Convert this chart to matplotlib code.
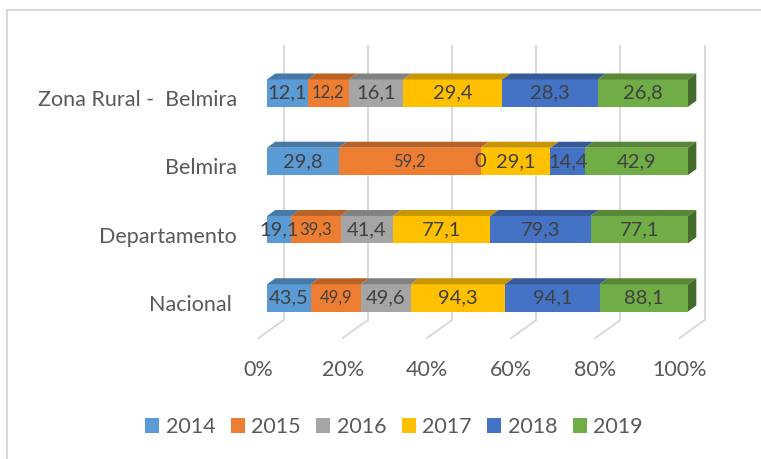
import matplotlib
matplotlib.use("Agg")
import matplotlib.pyplot as plt
import matplotlib.colors as mcolors
from matplotlib.patches import Polygon, Patch
from matplotlib.lines import Line2D
import numpy as np

plt.rcParams['font.family'] = ['Lato', 'DejaVu Sans']

# Data (values as shown in the data labels)
categories = ['Nacional ', 'Departamento', 'Belmira', 'Zona Rural -  Belmira']
years = ['2014', '2015', '2016', '2017', '2018', '2019']
values = {
    '2014': [43.5, 19.1, 29.8, 12.1],
    '2015': [49.9, 39.3, 59.2, 12.2],
    '2016': [49.6, 41.4, 0.0, 16.1],
    '2017': [94.3, 77.1, 29.1, 29.4],
    '2018': [94.1, 79.3, 14.4, 28.3],
    '2019': [88.1, 77.1, 42.9, 26.8],
}
labels = {
    '2014': ['43,5', '19,1', '29,8', '12,1'],
    '2015': ['49,9', '39,3', '59,2', '12,2'],
    '2016': ['49,6', '41,4', '0', '16,1'],
    '2017': ['94,3', '77,1', '29,1', '29,4'],
    '2018': ['94,1', '79,3', '14,4', '28,3'],
    '2019': ['88,1', '77,1', '42,9', '26,8'],
}
colors = ['#5B9BD5', '#ED7D31', '#A5A5A5', '#FFC000', '#4472C4', '#70AD47']
ticks = [0, 20, 40, 60, 80, 100]

W, H = 761, 459
fig = plt.figure(figsize=(W / 100, H / 100), dpi=100)

# axes placed so that 0..100 % spans the bar front plane
x0, x1 = 267, 688
y_floor, y_top = 332, 59
ax = fig.add_axes([x0 / W, (H - y_floor) / H, (x1 - x0) / W, (y_floor - y_top) / H])
ax.set_xlim(0, 100)
ax.set_ylim(-0.5, 3.5)
ax.axis('off')

px_x = 100 / (x1 - x0)          # data units per pixel (x)
px_y = 4 / (y_floor - y_top)    # data units per pixel (y)

def off(dx, dy):
    return dx * px_x, dy * px_y

bar_dx, bar_dy = off(8.3, 6)       # bar depth
back_dx, back_dy = off(16.6, 12)   # back wall
front_dx, front_dy = off(-8.3, -6) # front of floor

grid_c = '#D9D9D9'
text_c = '#595959'
for t in ticks:
    ax.plot([t + back_dx, t + back_dx], [-0.5 + back_dy, 3.5 + back_dy + 0.02],
            color=grid_c, lw=1.4, zorder=1, clip_on=False)
    ax.plot([t + back_dx, t + front_dx], [-0.5 + back_dy, -0.5 + front_dy],
            color=grid_c, lw=1.4, zorder=1, clip_on=False)
    ax.text(t + front_dx, -0.5 - 38 * px_y, f'{t}%', ha='center', va='center',
            fontsize=15.5, color=text_c)

def shade(c, f):
    r, g, b = mcolors.to_rgb(c)
    return (r * f, g * f, b * f)

pos = np.arange(len(categories))
h = 0.4
totals = np.sum([values[y] for y in years], axis=0)
left = np.zeros(len(categories))
for yr, c in zip(years, colors):
    pct = np.array(values[yr]) / totals * 100
    ax.barh(pos, pct, left=left, height=h, color=c, zorder=3)
    for i in range(len(categories)):
        l, w, yc = left[i], pct[i], pos[i]
        top = [(l, yc + h / 2), (l + w, yc + h / 2),
               (l + w + bar_dx, yc + h / 2 + bar_dy), (l + bar_dx, yc + h / 2 + bar_dy)]
        ax.add_patch(Polygon(top, closed=True, color=shade(c, 0.78), lw=0, zorder=3,
                             clip_on=False))
        fs = 12 if yr == '2015' else 14.5
        ax.text(l + w / 2, yc, labels[yr][i], ha='center', va='center',
                fontsize=fs, color='#404040', zorder=5)
    left = left + pct

# right side face of the stack
for i in range(len(categories)):
    yc = pos[i]
    side = [(100, yc - h / 2), (100, yc + h / 2),
            (100 + bar_dx, yc + h / 2 + bar_dy), (100 + bar_dx, yc - h / 2 + bar_dy)]
    ax.add_patch(Polygon(side, closed=True, color=shade(colors[-1], 0.62), lw=0,
                         zorder=3, clip_on=False))

for i, cat in enumerate(categories):
    ax.text(-30 * px_x, pos[i] - 7 * px_y, cat, ha='right', va='center',
            fontsize=15.5, color=text_c)

handles = [Patch(facecolor=c, edgecolor='none') for c in colors]
fig.legend(handles, years, loc='center', bbox_to_anchor=(394 / W, (H - 427) / H),
           ncol=6, frameon=False, fontsize=15.5, labelcolor=text_c,
           handlelength=0.65, handleheight=0.65, handletextpad=0.3, columnspacing=0.72)

# chart area border
fig.add_artist(Line2D([7 / W, 7 / W], [0, (H - 10) / H], color=grid_c, lw=1.5))
fig.add_artist(Line2D([7 / W, 1], [(H - 10) / H, (H - 10) / H], color=grid_c, lw=1.5))

fig.savefig('out.png', dpi=100)
